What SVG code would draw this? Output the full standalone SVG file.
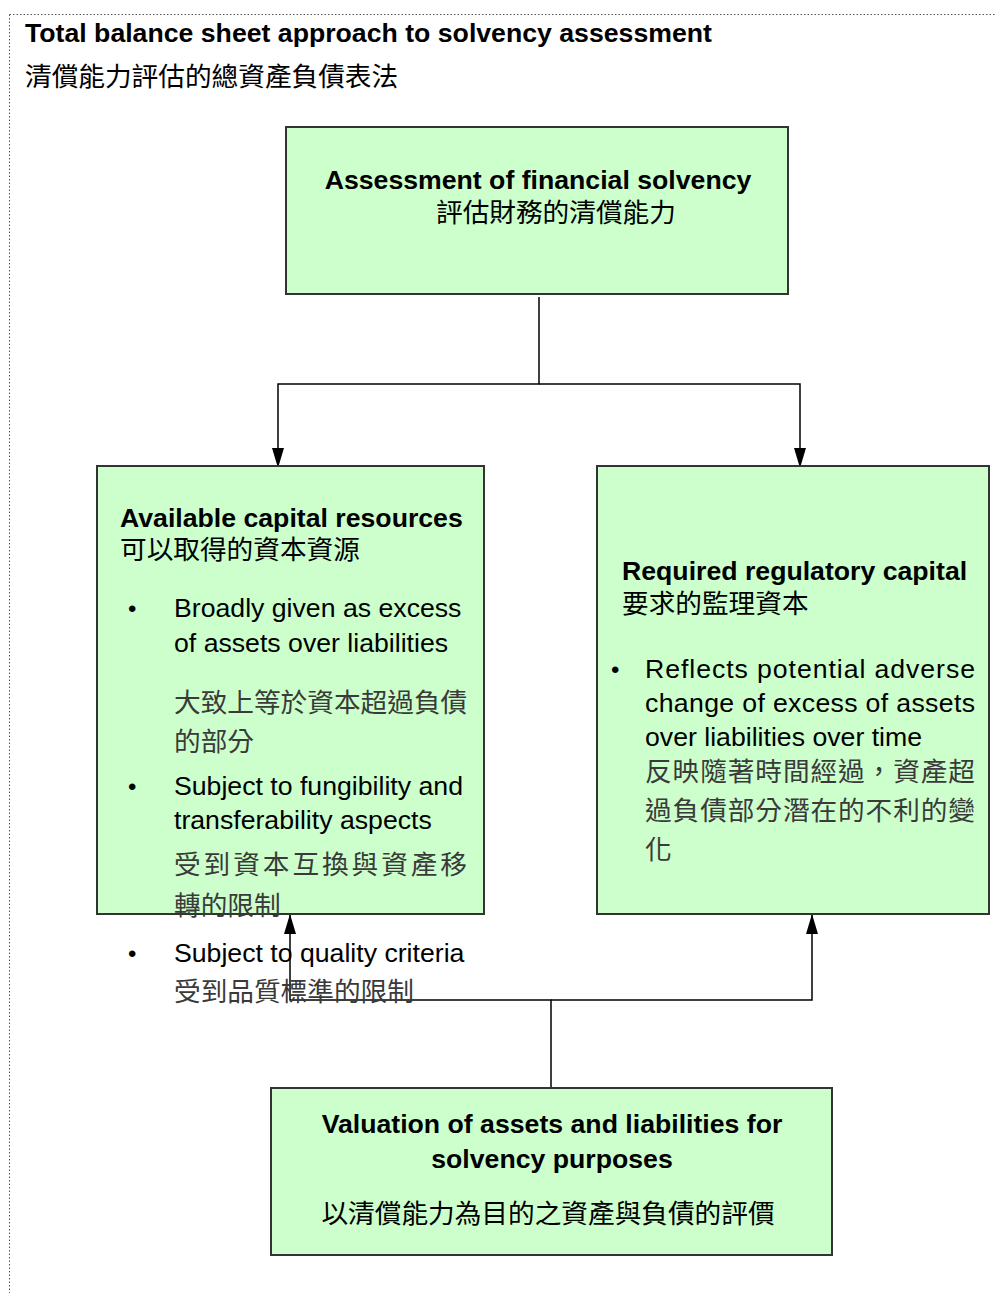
<svg xmlns="http://www.w3.org/2000/svg" width="997" height="1293" viewBox="0 0 997 1293">
<style>
.box{fill:#CCFFCC;stroke:#333;stroke-width:2}
.en{font-family:"Liberation Sans",Arial,sans-serif;fill:#000;font-size:26.67px}
.b{font-weight:bold}
.bu{font-family:"Liberation Sans",Arial,sans-serif;fill:#000;font-size:24px}
.zh{font-family:"Noto Sans CJK TC","Noto Sans CJK SC",sans-serif;fill:#000;font-size:26.67px}
.zg{font-family:"Noto Sans CJK TC","Noto Sans CJK SC",sans-serif;fill:#3a3a3a;font-size:26.67px}
.con{fill:none;stroke:#000;stroke-width:1.5}
</style>
<defs>
<marker id="arr" viewBox="0 0 20 12" refX="20" refY="6" markerWidth="20" markerHeight="12" markerUnits="userSpaceOnUse" orient="auto">
<path d="M0,0 L20,6 L0,12 Z" fill="#000"/>
</marker>
</defs>
<rect width="997" height="1293" fill="#fff"/>
<path d="M9.5,14.5 H996 M9.5,14.5 V1293" fill="none" stroke="#555" stroke-width="1" stroke-dasharray="1.5,2"/>
<g id="title">
<text class="en b" x="25" y="42">Total balance sheet approach to solvency assessment</text>
<text class="zh" x="25" y="86">清償能力評估的總資產負債表法</text>
</g>
<g id="connectors">
<path class="con" d="M539,297 V384 H278 V468" marker-end="url(#arr)"/>
<path class="con" d="M539,384 H800 V468" marker-end="url(#arr)"/>
<path class="con" d="M551,1087 V1000 H290 V914" marker-end="url(#arr)"/>
<path class="con" d="M551,1000 H812 V914" marker-end="url(#arr)"/>
</g>
<g id="node-assessment">
<rect class="box" x="286" y="127" width="502" height="167"/>
<text class="en b" x="538" y="189" text-anchor="middle">Assessment of financial solvency</text>
<text class="zh" x="436" y="222">評估財務的清償能力</text>
</g>
<g id="node-available">
<rect class="box" x="97" y="466" width="387" height="448"/>
<text class="en b" x="120" y="527">Available capital resources</text>
<text class="zh" x="120" y="559">可以取得的資本資源</text>
<text class="bu" x="128" y="617">•</text>
<text class="en" x="174" y="617">Broadly given as excess</text>
<text class="en" x="174" y="652">of assets over liabilities</text>
<text class="zg" x="174" y="712">大致上等於資本超過負債</text>
<text class="zg" x="174" y="751">的部分</text>
<text class="bu" x="128" y="795">•</text>
<text class="en" x="174" y="795">Subject to fungibility and</text>
<text class="en" x="174" y="829">transferability aspects</text>
<text class="zg" x="174" y="874" textLength="293" lengthAdjust="spacing">受到資本互換與資產移</text>
<text class="zg" x="174" y="915">轉的限制</text>
<text class="bu" x="128" y="962">•</text>
<text class="en" x="174" y="962">Subject to quality criteria</text>
<text class="zg" x="174" y="1001">受到品質標準的限制</text>
</g>
<g id="node-required">
<rect class="box" x="597" y="466" width="392" height="448"/>
<text class="en b" x="622" y="580">Required regulatory capital</text>
<text class="zh" x="622" y="613">要求的監理資本</text>
<text class="bu" x="611" y="678">•</text>
<text class="en" x="645" y="678" textLength="330" lengthAdjust="spacing">Reflects potential adverse</text>
<text class="en" x="645" y="712" textLength="330" lengthAdjust="spacing">change of excess of assets</text>
<text class="en" x="645" y="746">over liabilities over time</text>
<text class="zg" x="645" y="781" textLength="330" lengthAdjust="spacing">反映隨著時間經過，資產超</text>
<text class="zg" x="645" y="820" textLength="330" lengthAdjust="spacing">過負債部分潛在的不利的變</text>
<text class="zg" x="645" y="859">化</text>
</g>
<g id="node-valuation">
<rect class="box" x="271" y="1088" width="561" height="167"/>
<text class="en b" x="552" y="1133" text-anchor="middle">Valuation of assets and liabilities for</text>
<text class="en b" x="552" y="1168" text-anchor="middle">solvency purposes</text>
<text class="zh" x="548" y="1223" text-anchor="middle">以清償能力為目的之資產與負債的評價</text>
</g>
</svg>
